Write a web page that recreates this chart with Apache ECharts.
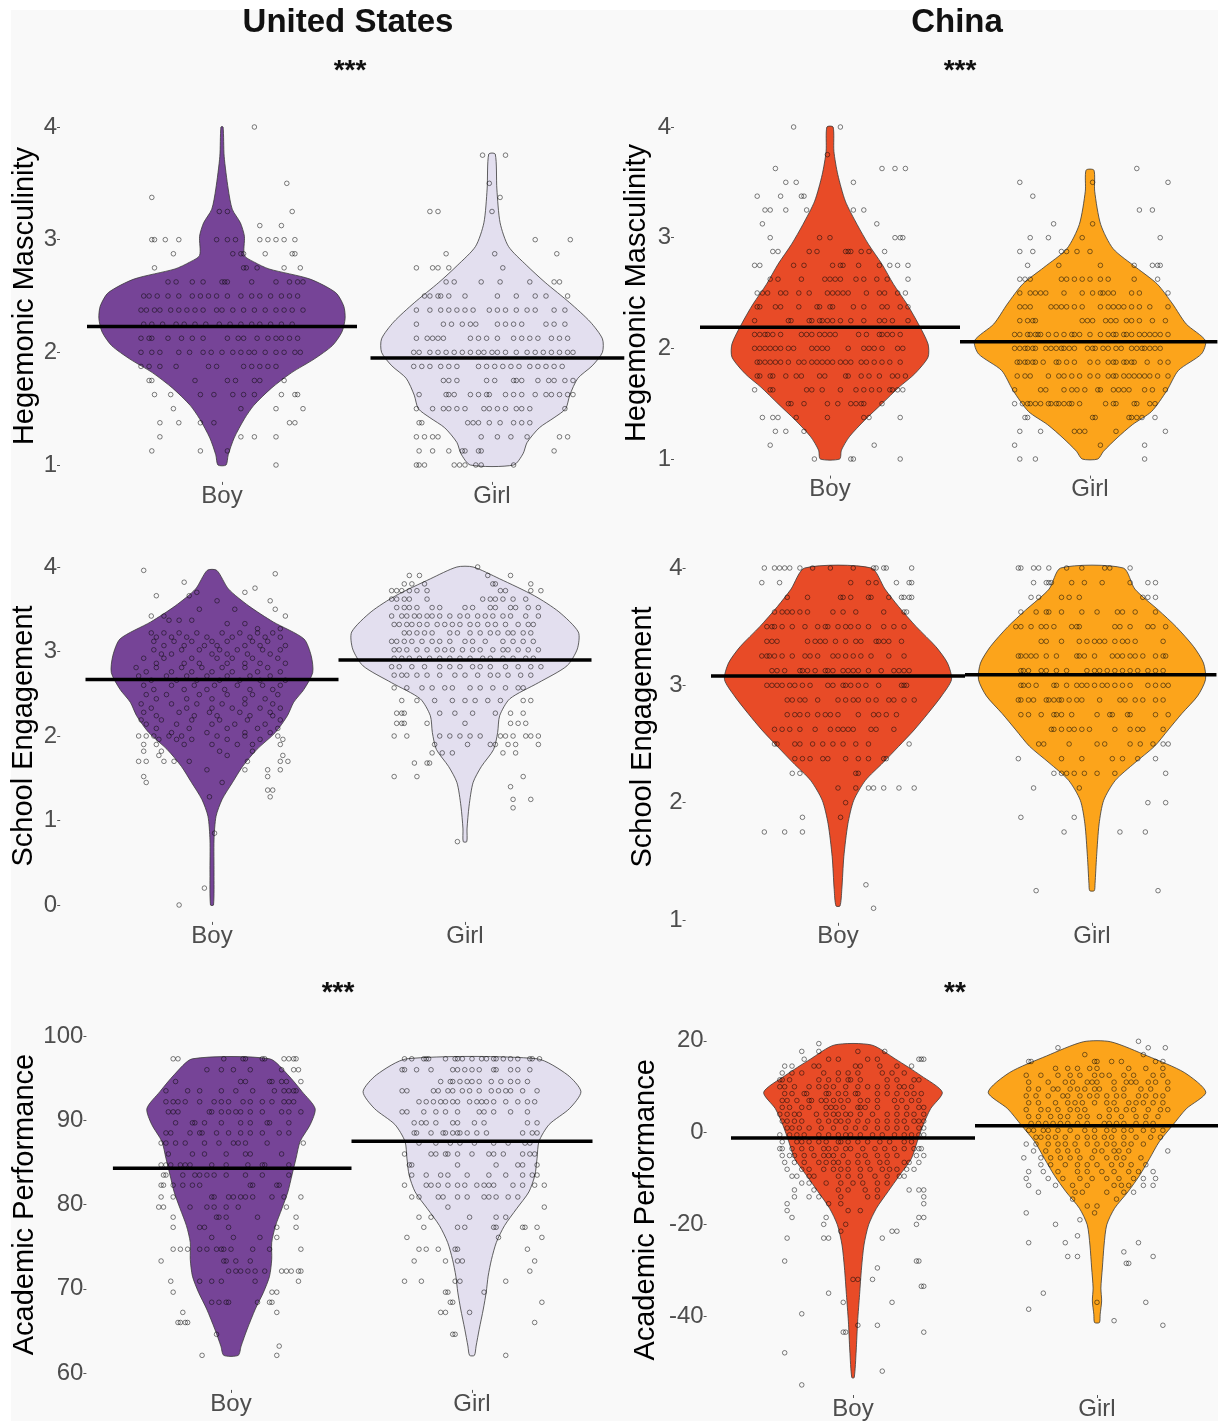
<!DOCTYPE html>
<html>
<head>
<meta charset="utf-8">
<title>Gender differences - United States vs China</title>
<script src="https://cdn.jsdelivr.net/npm/echarts@6/dist/echarts.min.js"></script>
<style>
  html, body { margin: 0; padding: 0; background: #fff; }
  #chart { width: 1218px; height: 1421px; }
</style>
</head>
<body>
<div id="chart"></div>
<script>
const sexLabels = ['Boy', 'Girl']

// tick labels
const mascTicks = [1, 2, 3, 4]
const usEngTicks = [0, 1, 2, 3, 4]
const cnEngTicks = [1, 2, 3, 4]
const usAcadTicks = [60, 70, 80, 90, 100]
const cnAcadTicks = [-40, -20, 0, 20]

// group means (black bars)
const usMascMeans = [2.23, 1.95]
const cnMascMeans = [2.19, 2.06]
const usEngMeans = [2.67, 2.9]
const cnEngMeans = [3.08, 3.09]
const usAcadMeans = [84.3, 87.5]
const cnAcadMeans = [-1.2, 1.5]

// violin outlines: [value, half width in category units], top to bottom
const usMascBoyShape = [[4.0,0.004],[3.74,0.008],[3.45,0.023],[3.27,0.038],[3.15,0.068],[3.03,0.083],[2.86,0.083],[2.8,0.12],[2.74,0.174],[2.65,0.326],[2.53,0.421],[2.41,0.451],[2.3,0.456],[2.18,0.444],[2.06,0.409],[1.94,0.341],[1.82,0.258],[1.68,0.182],[1.53,0.118],[1.41,0.083],[1.24,0.045],[1.09,0.023],[1.0,0.015]]
const usMascGirlShape = [[3.76,0.012],[3.45,0.018],[3.15,0.03],[2.94,0.061],[2.77,0.129],[2.62,0.197],[2.44,0.288],[2.27,0.364],[2.12,0.409],[2.0,0.409],[1.88,0.371],[1.77,0.318],[1.62,0.288],[1.5,0.273],[1.42,0.23],[1.33,0.175],[1.2,0.13],[1.1,0.115],[1.0,0.08]]
const cnMascBoyShape = [[4.0,0.012],[3.78,0.015],[3.57,0.03],[3.33,0.059],[3.12,0.104],[2.94,0.148],[2.76,0.2],[2.58,0.244],[2.4,0.296],[2.22,0.34],[2.04,0.377],[1.92,0.377],[1.77,0.326],[1.65,0.266],[1.5,0.2],[1.35,0.133],[1.2,0.074],[1.08,0.044],[1.0,0.037]]
const cnMascGirlShape = [[3.61,0.015],[3.42,0.018],[3.12,0.041],[2.9,0.089],[2.73,0.178],[2.58,0.259],[2.4,0.318],[2.22,0.37],[2.07,0.444],[1.95,0.429],[1.8,0.34],[1.62,0.296],[1.43,0.237],[1.31,0.163],[1.19,0.104],[1.07,0.052],[1.0,0.03]]
const usEngBoyShape = [[3.96,0.019],[3.74,0.065],[3.54,0.145],[3.35,0.242],[3.15,0.363],[2.95,0.392],[2.75,0.398],[2.55,0.363],[2.4,0.323],[2.24,0.298],[2.04,0.25],[1.84,0.177],[1.64,0.121],[1.45,0.081],[1.25,0.04],[1.05,0.016],[0.77,0.008],[0.38,0.008],[0.0,0.006]]
const usEngGirlShape = [[4.0,0.032],[3.86,0.137],[3.66,0.274],[3.47,0.371],[3.23,0.448],[3.03,0.444],[2.83,0.403],[2.63,0.29],[2.44,0.177],[2.24,0.137],[2.04,0.129],[1.84,0.113],[1.64,0.065],[1.45,0.032],[1.17,0.016],[0.9,0.008],[0.75,0.007]]
const cnEngBoyShape = [[4.0,0.131],[3.82,0.185],[3.67,0.239],[3.5,0.308],[3.33,0.385],[3.19,0.431],[3.05,0.447],[2.91,0.408],[2.76,0.354],[2.62,0.3],[2.48,0.239],[2.34,0.177],[2.19,0.108],[2.02,0.062],[1.82,0.039],[1.54,0.023],[1.26,0.015],[1.12,0.008]]
const cnEngGirlShape = [[4.0,0.123],[3.82,0.169],[3.64,0.262],[3.5,0.331],[3.33,0.4],[3.19,0.439],[3.05,0.447],[2.91,0.416],[2.76,0.354],[2.62,0.3],[2.48,0.246],[2.34,0.169],[2.19,0.092],[2.02,0.046],[1.82,0.028],[1.54,0.018],[1.31,0.012],[1.25,0.009]]
const usAcadBoyShape = [[97.3,0.16],[95.4,0.236],[93.4,0.295],[91.4,0.349],[89.5,0.329],[87.5,0.287],[85.5,0.27],[83.5,0.253],[81.5,0.236],[79.5,0.211],[77.5,0.185],[75.5,0.169],[73.5,0.169],[71.5,0.16],[69.6,0.135],[67.6,0.101],[65.2,0.067],[63.2,0.042],[62.1,0.03]]
const usAcadGirlShape = [[97.3,0.27],[95.4,0.396],[93.4,0.452],[91.4,0.405],[89.5,0.32],[87.5,0.278],[85.5,0.27],[83.5,0.261],[81.5,0.236],[79.5,0.185],[77.5,0.135],[75.5,0.101],[73.5,0.081],[71.5,0.067],[69.6,0.059],[67.6,0.047],[65.2,0.03],[63.2,0.017],[62.1,0.01]]
const cnAcadBoyShape = [[19.1,0.076],[16.0,0.175],[12.4,0.279],[8.8,0.366],[5.2,0.318],[1.6,0.287],[-2.0,0.263],[-5.7,0.239],[-9.3,0.191],[-12.9,0.143],[-16.5,0.096],[-20.1,0.064],[-24.5,0.045],[-29.5,0.035],[-35.3,0.027],[-41.1,0.019],[-47.6,0.013],[-53.4,0.005]]
const cnAcadGirlShape = [[19.8,0.056],[16.7,0.207],[13.1,0.358],[8.8,0.446],[5.2,0.366],[1.6,0.31],[-2.0,0.255],[-5.7,0.215],[-9.3,0.175],[-12.9,0.127],[-16.5,0.072],[-20.1,0.04],[-24.5,0.029],[-29.5,0.022],[-33.9,0.016],[-36.7,0.019],[-39.6,0.013],[-41.4,0.01]]

// jittered respondents: [value, [horizontal offsets from the category]]
const usMascBoyPts = [
  [4.0,[0.12]],[3.5,[0.24]],[3.375,[-0.26]],[3.25,[-0.01,0.02,0.26]],[3.125,[0.14,0.22]],
  [3.0,[-0.26,-0.25,-0.21,-0.16,-0.02,0.02,0.05,0.14,0.17,0.2,0.23,0.27]],
  [2.875,[-0.18,0.04,0.07,0.08,0.16,0.26,0.27]],
  [2.75,[-0.25,0.08,0.09,0.13,0.23,0.29]],
  [2.625,[-0.2,-0.17,-0.11,-0.07,0,0.01,0.02,0.11,0.2,0.25,0.28,0.3]],
  [2.5,[-0.29,-0.27,-0.24,-0.2,-0.16,-0.11,-0.08,-0.05,-0.02,0.02,0.07,0.11,0.14,0.18,0.22,0.25,0.28]],
  [2.375,[-0.3,-0.28,-0.25,-0.23,-0.19,-0.16,-0.13,-0.1,-0.07,-0.02,0,0.04,0.08,0.12,0.16,0.2,0.23,0.26,0.3]],
  [2.25,[-0.29,-0.26,-0.22,-0.17,-0.14,-0.1,-0.06,-0.01,0.03,0.07,0.11,0.14,0.18,0.22,0.26]],
  [2.125,[-0.3,-0.27,-0.26,-0.2,-0.15,-0.11,-0.07,0.02,0.06,0.08,0.13,0.17,0.2,0.22,0.25,0.28]],
  [2.0,[-0.3,-0.26,-0.23,-0.16,-0.12,-0.07,-0.04,0,0.04,0.07,0.1,0.12,0.16,0.2,0.23,0.27,0.29]],
  [1.875,[-0.3,-0.27,-0.23,-0.17,-0.05,-0.02,0.08,0.11,0.14,0.17,0.2]],
  [1.75,[-0.27,-0.26,-0.1,0.02,0.05,0.12,0.14,0.23]],
  [1.625,[-0.25,-0.19,-0.08,-0.03,0.04,0.08,0.12,0.22,0.27,0.28]],
  [1.5,[-0.18,0.07,0.2,0.3]],[1.375,[-0.23,-0.16,-0.08,-0.03,0.25,0.27]],
  [1.25,[-0.23,0.07,0.12,0.2]],[1.125,[-0.26,-0.08,0.02]],[1.0,[0.2]]
]
const usMascGirlPts = [
  [3.75,[-0.035,0.05]],[3.5,[-0.01]],[3.375,[0.03]],[3.25,[-0.23,-0.2,0]],[3.0,[0.16,0.29]],
  [2.875,[-0.17,0.01,0.24]],[2.75,[-0.28,-0.22,-0.2,-0.16,0.04]],
  [2.625,[-0.17,-0.14,-0.04,0.03,0.14,0.23,0.25]],
  [2.5,[-0.25,-0.23,-0.2,-0.19,-0.16,-0.1,0.02,0.09,0.16,0.2,0.28]],
  [2.375,[-0.28,-0.23,-0.19,-0.16,-0.13,-0.1,-0.07,-0.01,0.02,0.05,0.09,0.13,0.16,0.23,0.27]],
  [2.25,[-0.28,-0.18,-0.15,-0.11,-0.08,-0.06,0.02,0.05,0.08,0.11,0.2,0.23,0.27]],
  [2.125,[-0.28,-0.24,-0.22,-0.2,-0.18,-0.08,-0.05,-0.02,0.02,0.08,0.11,0.14,0.17,0.22,0.25,0.28]],
  [2.0,[-0.29,-0.27,-0.23,-0.2,-0.17,-0.14,-0.11,-0.08,-0.05,-0.03,0,0.02,0.05,0.09,0.13,0.16,0.19,0.22,0.25,0.28,0.3]],
  [1.875,[-0.29,-0.26,-0.23,-0.19,-0.16,-0.13,-0.05,-0.02,0.01,0.04,0.07,0.1,0.14,0.17,0.2,0.23,0.26]],
  [1.75,[-0.18,-0.16,-0.13,-0.02,0.01,0.08,0.09,0.11,0.17,0.21,0.23,0.27,0.3]],
  [1.625,[-0.27,-0.17,-0.16,-0.14,-0.08,-0.05,-0.02,-0.01,0.05,0.08,0.11,0.16,0.2,0.22,0.25,0.28,0.3]],
  [1.5,[-0.28,-0.22,-0.18,-0.16,-0.13,-0.1,-0.03,-0.01,0.02,0.05,0.09,0.11,0.14,0.27]],
  [1.375,[-0.27,-0.26,-0.09,-0.07,-0.05,-0.01,0.03,0.08,0.11,0.14]],
  [1.25,[-0.28,-0.25,-0.22,-0.2,-0.04,0.02,0.07,0.13,0.25,0.28]],
  [1.125,[-0.27,-0.22,-0.16,-0.11,-0.1,-0.05,-0.04,0.23]],
  [1.0,[-0.28,-0.27,-0.25,-0.14,-0.12,-0.1,-0.06,-0.04,0.08]]
]
const cnMascBoyPts = [
  [4.0,[-0.14,0.04]],[3.75,[-0.01]],[3.625,[-0.21,0.2,0.25,0.29]],[3.5,[-0.17,-0.13,0.09]],
  [3.375,[-0.28,-0.19,-0.11,-0.1]],[3.25,[-0.25,-0.23,-0.17,-0.09,0.09,0.13]],[3.125,[-0.26,0.18]],
  [3.0,[-0.23,-0.04,0,0.25,0.27,0.28]],
  [2.875,[-0.22,-0.2,-0.08,-0.05,0.06,0.07,0.08,0.12,0.15,0.21]],
  [2.75,[-0.29,-0.27,-0.14,-0.1,0.01,0.04,0.05,0.11,0.19,0.23,0.26,0.3]],
  [2.625,[-0.23,-0.2,-0.11,-0.02,0,0.02,0.04,0.1,0.13,0.18,0.22,0.3]],
  [2.5,[-0.28,-0.26,-0.24,-0.19,-0.17,-0.12,-0.08,-0.01,0.01,0.03,0.05,0.07,0.14,0.19,0.21,0.26,0.29]],
  [2.375,[-0.28,-0.27,-0.21,-0.19,-0.12,-0.05,-0.04,0,0.01,0.09,0.13,0.2,0.22,0.27,0.3]],
  [2.25,[-0.29,-0.16,-0.15,-0.08,-0.07,-0.04,-0.03,-0.01,0.01,0.04,0.08,0.13,0.19,0.21,0.24,0.3]],
  [2.125,[-0.29,-0.27,-0.25,-0.24,-0.22,-0.19,-0.11,-0.09,-0.07,-0.04,-0.02,0,0.02,0.11,0.14,0.19,0.2,0.22,0.24,0.27]],
  [2.0,[-0.29,-0.27,-0.25,-0.23,-0.21,-0.19,-0.16,-0.14,-0.07,-0.05,-0.03,-0.01,0.07,0.13,0.15,0.17,0.2,0.26,0.28]],
  [1.875,[-0.28,-0.27,-0.25,-0.23,-0.21,-0.19,-0.16,-0.12,-0.1,-0.07,-0.05,-0.03,-0.01,0.01,0.04,0.06,0.08,0.12,0.14,0.17,0.2,0.23,0.27]],
  [1.75,[-0.28,-0.27,-0.23,-0.22,-0.17,-0.13,-0.11,-0.04,-0.02,0.06,0.07,0.12,0.15,0.19,0.24,0.26,0.29]],
  [1.625,[-0.29,-0.23,-0.22,-0.09,-0.07,-0.03,0.04,0.1,0.13,0.16,0.19,0.23,0.24,0.26,0.28]],
  [1.5,[-0.16,-0.15,-0.1,-0.01,0.03,0.08,0.1,0.12,0.13,0.2]],
  [1.375,[-0.26,-0.22,-0.2,-0.13,-0.01,0.13,0.15,0.27]],
  [1.25,[-0.21,-0.17,-0.1]],[1.125,[-0.23,0.17]],[1.0,[-0.06,0.08,0.09,0.27]]
]
const cnMascGirlPts = [
  [3.625,[0.18]],[3.5,[-0.27,0.01,0.3]],[3.375,[-0.22]],[3.25,[0.19,0.24]],[3.125,[-0.14,0.01]],
  [3.0,[-0.23,-0.16,-0.03,0.27]],[2.875,[-0.27,-0.22,-0.11,-0.09,-0.05,0]],
  [2.75,[-0.24,-0.12,0.04,0.17,0.24,0.26,0.27]],
  [2.625,[-0.27,-0.25,-0.23,-0.11,-0.09,-0.06,-0.03,0,0.04,0.07,0.17,0.26]],
  [2.5,[-0.27,-0.23,-0.21,-0.19,-0.17,-0.1,-0.03,0.01,0.04,0.05,0.07,0.09,0.16,0.19,0.3]],
  [2.375,[-0.27,-0.25,-0.23,-0.15,-0.13,-0.11,-0.09,-0.06,-0.03,0.04,0.07,0.09,0.11,0.13,0.16,0.19,0.23,0.3]],
  [2.25,[-0.27,-0.24,-0.22,-0.21,-0.03,-0.01,0.01,0.06,0.08,0.1,0.14,0.16,0.19,0.24,0.29]],
  [2.125,[-0.29,-0.27,-0.24,-0.23,-0.21,-0.2,-0.19,-0.16,-0.13,-0.1,-0.07,-0.06,-0.04,0,0.04,0.07,0.09,0.1,0.13,0.14,0.16,0.19,0.21,0.23,0.25,0.27,0.3]],
  [2.0,[-0.29,-0.27,-0.25,-0.24,-0.22,-0.21,-0.17,-0.15,-0.13,-0.11,-0.1,-0.08,-0.06,-0.01,0.01,0.02,0.05,0.07,0.1,0.12,0.16,0.18,0.2,0.21,0.23,0.25,0.27]],
  [1.875,[-0.28,-0.27,-0.25,-0.24,-0.22,-0.21,-0.18,-0.13,-0.12,-0.09,-0.06,0,0.03,0.07,0.09,0.1,0.13,0.14,0.16,0.17,0.22,0.27,0.3]],
  [1.75,[-0.28,-0.25,-0.23,-0.16,-0.12,-0.1,-0.07,-0.04,0,0.03,0.07,0.09,0.1,0.13,0.15,0.17,0.19,0.21,0.23,0.26,0.3]],
  [1.625,[-0.29,-0.19,-0.17,-0.1,-0.07,-0.05,-0.02,0.03,0.04,0.09,0.11,0.13,0.15,0.21,0.24,0.29]],
  [1.5,[-0.29,-0.26,-0.24,-0.23,-0.21,-0.19,-0.16,-0.15,-0.13,-0.12,-0.1,-0.08,-0.07,-0.04,0.06,0.09,0.1,0.17,0.18,0.23,0.25]],
  [1.375,[-0.25,-0.24,0.01,0.02,0.15,0.16,0.18,0.2,0.25]],
  [1.25,[-0.27,-0.19,-0.06,-0.04,-0.02,0.1,0.29]],[1.125,[-0.29,0.04,0.21]],[1.0,[-0.27,-0.21,0.21]]
]
const usEngBoyPts = [
  [3.96,[-0.27]],[3.92,[0.25]],[3.82,[-0.11]],[3.75,[0.17]],[3.7,[-0.06,0.13]],[3.66,[-0.22,-0.09]],
  [3.6,[0.02,0.23]],[3.5,[-0.05,0.09,0.25]],[3.42,[-0.24,-0.19,0.29]],[3.37,[-0.17,-0.13,-0.08]],
  [3.33,[0.06,0.13]],[3.27,[0.18,0.27]],
  [3.22,[-0.24,-0.19,-0.13,-0.06,0.04,0.11,0.18,0.24]],[3.17,[-0.22,-0.16,-0.1,-0.02,0.08,0.15,0.21,0.27]],
  [3.12,[-0.23,-0.15,-0.08,0,0.06,0.16,0.22]],[3.07,[-0.19,-0.11,-0.03,0.02,0.13,0.19,0.29]],
  [3.02,[-0.23,-0.12,-0.05,0.03,0.1,0.2,0.27]],[2.97,[-0.2,-0.16,0,0.06,0.14,0.23]],
  [2.92,[-0.27,-0.19,-0.08,0.02,0.08,0.16,0.26]],[2.86,[-0.22,-0.11,-0.05,0.06,0.13,0.19,0.29]],
  [2.81,[-0.3,-0.22,-0.12,-0.04,0.04,0.13,0.22]],[2.76,[-0.26,-0.16,-0.08,0,0.08,0.18,0.27]],
  [2.71,[-0.29,-0.18,-0.1,-0.02,0.06,0.15,0.23]],[2.66,[-0.24,-0.14,-0.06,0.03,0.11,0.19,0.29]],
  [2.6,[-0.27,-0.16,-0.07,0.01,0.1,0.2,0.27]],[2.55,[-0.23,-0.11,-0.02,0.05,0.15,0.24]],
  [2.49,[-0.26,-0.18,-0.05,0.06,0.16,0.26]],[2.44,[-0.22,-0.1,0,0.13,0.21]],
  [2.38,[-0.28,-0.16,-0.06,0.04,0.13,0.24]],[2.33,[-0.24,-0.1,0,0.08,0.19,0.27]],
  [2.28,[-0.27,-0.13,-0.01,0.11,0.23]],[2.24,[-0.22,-0.07,0.02,0.15,0.24]],
  [2.19,[-0.28,-0.2,-0.08,0.03,0.14,0.27]],[2.14,[-0.26,-0.14,0,0.09,0.21]],
  [2.09,[-0.22,-0.09,0.06,0.18,0.26]],[2.04,[-0.16,-0.02,0.13,0.23]],
  [2.0,[-0.29,-0.26,-0.23,-0.17,-0.12,0.02,0.13,0.26]],[1.96,[-0.21,-0.14,-0.08,0.06,0.19,0.28]],
  [1.9,[-0.27,-0.22,-0.11,0,0.1,0.16,0.27]],[1.82,[-0.27,-0.2,0.03,0.16]],[1.77,[-0.21,0.06,0.28]],
  [1.7,[-0.29,-0.26,-0.19,-0.15,-0.09,0.14,0.27,0.3]],[1.6,[-0.02,0.13,0.22,0.27]],
  [1.52,[-0.27,0.22]],[1.45,[-0.26,0.04]],[1.36,[0.22,0.24]],[1.28,[-0.01,0.23]],
  [0.85,[0.01]],[0.2,[-0.03]],[0.0,[-0.13]]
]
const usEngGirlPts = [
  [4.0,[0.05]],[3.9,[-0.22,-0.18,0.09,0.18]],[3.8,[-0.24,-0.21,-0.16,0.11,0.12,0.26]],
  [3.72,[-0.29,-0.27,-0.25,-0.22,-0.19,-0.15,0.14,0.16,0.26,0.3]],
  [3.62,[-0.29,-0.27,-0.24,-0.22,-0.15,0.07,0.1,0.12,0.15,0.19,0.24]],
  [3.52,[-0.27,-0.24,-0.22,-0.19,-0.13,-0.1,0,0.03,0.1,0.12,0.18,0.2,0.25,0.29]],
  [3.42,[-0.29,-0.25,-0.23,-0.2,-0.18,-0.15,-0.13,-0.1,-0.06,-0.02,0.01,0.05,0.08,0.11,0.15,0.18,0.24,0.29]],
  [3.32,[-0.28,-0.26,-0.23,-0.21,-0.18,-0.15,-0.11,-0.08,-0.05,-0.02,0.02,0.05,0.09,0.12,0.16,0.21,0.25,0.27]],
  [3.22,[-0.24,-0.22,-0.19,-0.16,-0.13,-0.06,-0.03,0.02,0.06,0.1,0.13,0.17,0.19,0.23,0.26]],
  [3.12,[-0.29,-0.27,-0.24,-0.21,-0.17,-0.13,-0.1,-0.06,0,0.03,0.08,0.15,0.19,0.23,0.27]],
  [3.02,[-0.28,-0.26,-0.23,-0.19,-0.15,-0.11,-0.08,-0.05,-0.01,0.03,0.06,0.11,0.15,0.17,0.21,0.25,0.29]],
  [2.92,[-0.28,-0.25,-0.22,-0.18,-0.14,-0.1,-0.06,-0.02,0.02,0.07,0.1,0.15,0.19,0.24,0.27]],
  [2.82,[-0.29,-0.26,-0.21,-0.16,-0.1,-0.06,-0.02,0.03,0.06,0.1,0.16,0.21,0.26,0.3]],
  [2.72,[-0.28,-0.25,-0.23,-0.19,-0.15,-0.1,-0.04,0,0.05,0.1,0.13,0.17,0.22,0.26]],
  [2.57,[-0.28,-0.23,-0.17,-0.13,-0.08,-0.05,0.02,0.06,0.11,0.16,0.21,0.23]],
  [2.42,[-0.25,-0.19,-0.12,-0.05,0,0.04,0.09,0.14,0.23,0.26]],
  [2.27,[-0.27,-0.25,-0.24,-0.1,-0.04,0.03,0.12,0.18,0.23]],
  [2.15,[-0.27,-0.25,-0.24,-0.15,0,0.18,0.21,0.24]],
  [2.0,[-0.28,-0.23,-0.1,-0.06,-0.02,0.02,0.06,0.14,0.16,0.19,0.24,0.26,0.29]],
  [1.9,[-0.12,0.01,0.1,0.12,0.17,0.2,0.29]],[1.8,[-0.13,-0.09,-0.05,0.15,0.2]],
  [1.68,[-0.2,-0.15,-0.14]],[1.52,[-0.28,-0.19,0.23]],[1.4,[0.18]],[1.25,[0.19,0.26]],[1.15,[0.19]],[0.75,[-0.03]]
]
const cnEngBoyPts = [
  [4.0,[-0.29,-0.25,-0.23,-0.21,-0.19,-0.15,-0.1,-0.03,0.06,0.14,0.15,0.18,0.19,0.29]],
  [3.875,[-0.3,-0.23,0.05,0.12,0.15,0.23,0.28,0.29]],
  [3.75,[-0.2,-0.12,0.01,0.02,0.05,0.12,0.13,0.2,0.25,0.26,0.28,0.29]],
  [3.625,[-0.25,-0.22,-0.2,-0.18,-0.15,-0.12,-0.02,0.02,0.07,0.18,0.26,0.27]],
  [3.5,[-0.28,-0.26,-0.25,-0.22,-0.18,-0.13,-0.08,-0.05,-0.04,0,0.03,0.05,0.08,0.12,0.18,0.22,0.26]],
  [3.375,[-0.28,-0.26,-0.24,-0.12,-0.09,-0.07,-0.05,-0.01,0.03,0.07,0.09,0.15,0.16,0.18,0.2,0.25]],
  [3.25,[-0.3,-0.28,-0.27,-0.25,-0.22,-0.18,-0.13,-0.11,-0.08,-0.02,0,0.03,0.06,0.09,0.13,0.2,0.26]],
  [3.125,[-0.26,-0.24,-0.21,-0.15,-0.14,-0.12,-0.09,-0.05,-0.04,-0.02,0.02,0.04,0.06,0.08,0.12,0.17,0.22,0.24,0.26,0.28]],
  [3.0,[-0.28,-0.26,-0.24,-0.22,-0.19,-0.17,-0.14,-0.11,-0.04,-0.02,0.02,0.03,0.05,0.08,0.11,0.16,0.25,0.26,0.27]],
  [2.875,[-0.2,-0.18,-0.15,-0.13,-0.08,0,0.03,0.06,0.08,0.12,0.15,0.2,0.22,0.26,0.3]],
  [2.75,[-0.2,-0.17,-0.15,-0.12,-0.08,-0.05,-0.03,0,0.08,0.14,0.16,0.19,0.23]],
  [2.625,[-0.25,-0.22,-0.19,-0.15,-0.09,-0.03,0,0.02,0.04,0.06,0.13,0.15,0.22]],
  [2.5,[-0.25,-0.24,-0.17,-0.15,-0.1,-0.06,-0.02,0.02,0.07,0.12,0.28]],
  [2.375,[-0.17,-0.14,-0.11,-0.06,-0.04,0.03,0.08,0.12,0.18,0.19]],
  [2.25,[-0.18,-0.15,0.07,0.08]],[2.125,[0,0.07,0.12,0.14,0.18,0.24,0.3]],[2.0,[0.03]],
  [1.875,[-0.14,0.01]],[1.75,[-0.29,-0.21,-0.14]],[1.3,[0.11]],[1.1,[0.14]]
]
const cnEngGirlPts = [
  [4.0,[-0.29,-0.28,-0.23,-0.21,-0.17,-0.1,-0.04,0.05,0.07,0.15]],
  [3.875,[-0.23,-0.18,-0.17,-0.16,-0.08,-0.03,0.04,0.15,0.22,0.25]],
  [3.75,[-0.24,-0.21,-0.12,-0.09,-0.05,0.2,0.22,0.25]],
  [3.625,[-0.28,-0.22,-0.18,-0.17,-0.12,-0.04,0.02,0.1,0.12,0.17,0.25]],
  [3.5,[-0.3,-0.28,-0.24,-0.2,-0.18,-0.15,-0.08,-0.06,-0.05,0.09,0.11,0.15,0.22,0.24,0.29]],
  [3.375,[-0.2,-0.18,-0.12,-0.05,-0.02,0.01,0.03,0.05,0.09,0.12,0.14,0.17,0.28]],
  [3.25,[-0.29,-0.28,-0.26,-0.24,-0.22,-0.18,-0.14,-0.06,-0.05,-0.03,0.01,0.08,0.1,0.12,0.15,0.17,0.2,0.25,0.28,0.29]],
  [3.125,[-0.28,-0.27,-0.25,-0.2,-0.18,-0.14,-0.1,-0.02,0.01,0.03,0.06,0.09,0.12,0.15,0.18,0.22,0.25,0.28]],
  [3.0,[-0.28,-0.27,-0.25,-0.22,-0.15,-0.14,-0.1,-0.06,-0.04,-0.02,0.01,0.04,0.06,0.09,0.12,0.15,0.22,0.25,0.28,0.3]],
  [2.875,[-0.29,-0.28,-0.25,-0.23,-0.18,-0.17,-0.15,-0.13,-0.12,-0.09,-0.06,-0.04,0.03,0.11,0.13,0.17,0.2,0.25,0.28]],
  [2.75,[-0.28,-0.25,-0.2,-0.15,-0.14,-0.12,-0.08,0.02,0.07,0.08,0.14,0.15,0.25,0.3]],
  [2.625,[-0.16,-0.15,-0.12,-0.09,-0.07,-0.04,-0.01,0.09,0.15,0.18,0.2,0.28]],
  [2.5,[-0.21,-0.19,-0.09,0.02,0.05,0.15,0.19,0.24,0.28,0.3]],
  [2.375,[-0.29,-0.12,-0.04,0.08,0.12,0.18,0.25]],
  [2.25,[-0.15,-0.12,-0.1,-0.07,-0.03,0.02,0.09,0.29]],
  [2.125,[-0.23,-0.05]],[2.0,[0.22,0.29]],[1.875,[-0.28,-0.07]],[1.75,[-0.11,0.11,0.21]],[1.25,[-0.22,0.26]]
]
const usAcadBoyPts = [
  [97.3,[-0.24,-0.22,-0.03,0.05,0.06,0.13,0.14,0.22,0.24,0.26,0.27]],
  [96,[-0.1,-0.04,0.01,0.08,0.21,0.26,0.28]],
  [94.6,[-0.23,0.04,0.06,0.16,0.17,0.21,0.23,0.29]],
  [93.5,[-0.27,-0.18,-0.13,-0.04,0.02,0.09,0.18,0.22,0.24,0.26,0.27]],
  [92.2,[-0.27,-0.24,-0.22,-0.19,-0.13,-0.07,-0.04,-0.01,0.05,0.08,0.13,0.17,0.22,0.24,0.26]],
  [91,[-0.26,-0.24,-0.22,-0.09,-0.08,-0.04,-0.01,0.02,0.04,0.08,0.13,0.21,0.24,0.29]],
  [89.7,[-0.23,-0.16,-0.15,-0.11,-0.04,0.04,0.08,0.15,0.16,0.24]],
  [88.5,[-0.27,-0.25,-0.17,-0.13,-0.12,-0.06,-0.01,0.04,0.08,0.13,0.2,0.24]],
  [87.3,[-0.29,-0.27,-0.23,-0.19,-0.11,-0.05,0.01,0.03,0.06,0.15,0.3]],
  [86,[-0.26,-0.16,-0.11,-0.02,0.06,0.08,0.21]],
  [84.7,[-0.29,-0.27,-0.25,-0.21,-0.19,-0.17,-0.08,-0.02,0.07,0.13,0.14,0.24]],
  [83.5,[-0.28,-0.27,-0.2,-0.15,-0.13,-0.1,-0.07,-0.02,0.06,0.13,0.24]],
  [82.3,[-0.29,-0.28,-0.24,-0.2,-0.16,-0.13,0.08,0.09,0.19,0.2]],
  [80.9,[-0.29,-0.24,-0.08,-0.07,-0.01,0.01,0.04,0.06,0.09,0.17,0.22,0.29]],
  [79.7,[-0.3,-0.28,-0.17,-0.1,-0.07,-0.02,0.03,0.23]],
  [78.5,[-0.24,-0.06,-0.05,-0.02,0.11,0.27]],
  [77.3,[-0.24,-0.13,-0.11,-0.01,0.19,0.27]],
  [76.1,[-0.08,0.01,0.12,0.19]],
  [74.7,[-0.24,-0.21,-0.18,-0.13,-0.1,-0.06,-0.04,-0.03,0,0.09,0.16,0.29]],
  [73.3,[-0.29,-0.03,-0.02,0.02,0.08]],
  [72.1,[-0.01,0.02,0.04,0.07,0.1,0.14,0.21,0.23,0.25,0.28,0.29]],
  [70.9,[-0.25,-0.13,-0.08,-0.04,0.1,0.28]],
  [69.6,[-0.24,0.17,0.19]],
  [68.4,[-0.08,-0.05,-0.02,-0.01,0.11,0.16,0.17]],
  [67.2,[-0.2,0.19]],[66,[-0.22,-0.21,-0.19,-0.18]],[64.6,[-0.06]],[63.2,[0.2]],[62.1,[-0.12,0.19]]
]
const usAcadGirlPts = [
  [97.3,[-0.28,-0.25,-0.2,-0.19,-0.18,-0.11,-0.07,-0.06,-0.04,0,0.04,0.06,0.09,0.1,0.13,0.16,0.19,0.24,0.25,0.28]],
  [96,[-0.29,-0.28,-0.23,-0.17,-0.08,-0.06,-0.03,0,0.03,0.09,0.1,0.16,0.19,0.24]],
  [94.6,[-0.13,-0.09,-0.08,-0.05,-0.02,0,0.03,0.08,0.12,0.16,0.19,0.23]],
  [93.5,[-0.29,-0.27,-0.16,-0.14,-0.1,-0.08,-0.04,-0.01,0.03,0.08,0.11,0.14,0.16,0.21,0.27]],
  [92.2,[-0.22,-0.19,-0.16,-0.13,-0.11,-0.08,-0.06,-0.01,0.02,0.04,0.06,0.09,0.14,0.19,0.23,0.26]],
  [91,[-0.29,-0.27,-0.2,-0.15,-0.11,-0.06,0.03,0.05,0.09,0.16,0.23]],
  [89.7,[-0.24,-0.21,-0.19,-0.15,-0.08,-0.06,0.01,0.05,0.23,0.27]],
  [88.5,[-0.24,-0.23,-0.17,-0.12,-0.11,-0.08,-0.06,-0.05,-0.02,0.02,0.06,0.21,0.25,0.27]],
  [87.3,[-0.22,-0.15,-0.09,-0.05,0.01,0.09,0.15,0.22,0.24]],
  [86,[-0.28,-0.17,-0.15,-0.11,-0.1,-0.06,0,0.07,0.09,0.13,0.21,0.24,0.26]],
  [84.7,[-0.26,-0.25,-0.06,0.1,0.19,0.21,0.27]],
  [83.5,[-0.25,-0.19,-0.13,-0.1,-0.02,0.07,0.14,0.21,0.25,0.27]],
  [82.3,[-0.28,-0.19,-0.17,-0.14,-0.1,-0.06,-0.03,0.02,0.05,0.07,0.09,0.17,0.21,0.26,0.3]],
  [80.9,[-0.25,-0.22,-0.14,-0.12,-0.06,-0.02,0.05,0.07,0.1,0.15,0.19]],
  [79.7,[-0.1,0.3]],[78.5,[-0.22,-0.17,-0.01,0.1,0.14]],
  [77.3,[-0.2,-0.06,-0.03,0.09,0.1,0.21,0.22,0.27]],[76.1,[-0.27,0.11,0.29]],
  [74.7,[-0.22,-0.19,-0.14,-0.07,-0.06,0.23]],[73.3,[-0.24,-0.11,-0.06,-0.04,0.26]],[72.1,[0.24]],
  [70.9,[-0.28,-0.21,-0.07,-0.05,0.14]],[69.6,[-0.11,-0.1,0.05]],[68.4,[-0.09,-0.08,0.29]],
  [67.2,[-0.13,-0.11,-0.01]],[66,[0.26]],[64.6,[-0.08,-0.07]],[62.1,[0.14]]
]
const cnAcadBoyPts = [
  [19.4,[-0.14]],[17.7,[-0.21,-0.14,0.02,0.13]],[16,[-0.2,-0.1,-0.06,0.06,0.1,0.27,0.28,0.29]],
  [14.5,[-0.28,-0.25,-0.16,-0.14,0.01,0.03,0.11,0.18,0.24]],
  [13,[-0.29,-0.25,-0.21,-0.12,-0.06,-0.02,0.02,0.12,0.16,0.21]],
  [11.5,[-0.3,-0.29,-0.26,-0.14,-0.1,-0.06,-0.02,-0.01,0.03,0.14,0.18,0.25,0.27]],
  [10,[-0.3,-0.28,-0.24,-0.18,-0.14,-0.11,-0.08,-0.03,0.02,0.06,0.1,0.14,0.19,0.21,0.24]],
  [8.5,[-0.28,-0.25,-0.2,-0.19,-0.11,-0.1,-0.06,-0.03,0.01,0.02,0.1,0.14,0.18,0.22,0.25,0.28]],
  [7,[-0.29,-0.27,-0.23,-0.18,-0.17,-0.13,-0.11,-0.08,-0.05,-0.02,0.03,0.06,0.1,0.17,0.2,0.24,0.27]],
  [5.5,[-0.29,-0.26,-0.21,-0.18,-0.11,-0.09,-0.07,-0.04,0.02,0.03,0.05,0.1,0.18,0.22,0.27,0.29]],
  [4,[-0.3,-0.27,-0.24,-0.22,-0.15,-0.11,-0.08,-0.06,-0.03,-0.01,0.03,0.08,0.14,0.18,0.22,0.25,0.29]],
  [2.5,[-0.29,-0.27,-0.24,-0.21,-0.14,-0.1,-0.07,-0.05,-0.02,0.02,0.06,0.1,0.14,0.18,0.21,0.25,0.27,0.29]],
  [1,[-0.27,-0.25,-0.22,-0.18,-0.13,-0.08,-0.03,0.01,0.05,0.1,0.14,0.18,0.22,0.27,0.29]],
  [-0.5,[-0.3,-0.26,-0.23,-0.2,-0.14,-0.1,-0.06,-0.03,-0.01,0.03,0.08,0.12,0.17,0.21,0.24,0.27,0.29]],
  [-2,[-0.29,-0.23,-0.21,-0.18,-0.14,-0.11,-0.06,-0.05,-0.02,0.02,0.06,0.11,0.15,0.21,0.24]],
  [-3.5,[-0.3,-0.29,-0.25,-0.21,-0.17,-0.12,-0.1,-0.07,-0.03,-0.01,0.04,0.09,0.13,0.17,0.21,0.25,0.27,0.28]],
  [-5,[-0.29,-0.26,-0.24,-0.2,-0.16,-0.12,-0.1,-0.08,-0.04,0.02,0.05,0.1,0.14,0.18,0.26,0.29]],
  [-6.5,[-0.28,-0.24,-0.2,-0.14,-0.11,-0.08,-0.06,-0.02,0.02,0.06,0.11,0.14,0.21,0.23,0.27]],
  [-8,[-0.27,-0.21,-0.18,-0.12,-0.08,-0.05,-0.02,0.03,0.07,0.12,0.15,0.18,0.22,0.25]],
  [-9.5,[-0.25,-0.23,-0.18,-0.16,-0.06,-0.02,0.03,0.09,0.14,0.19,0.21]],
  [-11,[-0.21,-0.18,-0.11,-0.05,0,0.04,0.1,0.14]],
  [-12.5,[-0.24,-0.16,-0.06,-0.02,0.05,0.1,0.23,0.27,0.29]],
  [-14,[-0.24,-0.18,-0.14,-0.05,0.06,0.1,0.29]],
  [-15.5,[-0.27,-0.1,-0.05,0.29]],[-17,[-0.27,-0.02,0.03]],[-18.5,[-0.25,-0.11,0.27,0.29]],
  [-20,[-0.12,-0.03,0.26]],[-21.5,[-0.05,0.16,0.18]],[-23,[-0.27,-0.12,-0.1,0.12]],
  [-28,[-0.28,0.26,0.27]],[-29.5,[0.1]],[-32,[0,0.02,0.08]],[-33.5,[0.28,0.29]],[-35,[-0.1]],
  [-37,[-0.04,0.16]],[-39.5,[-0.21]],[-42,[0.02,0.1]],[-43.5,[-0.04,-0.03,0.29]],
  [-48,[-0.28]],[-52,[0.12]],[-55,[-0.21]]
]
const cnAcadGirlPts = [
  [19.9,[0.17]],[18.5,[-0.16,0.21,0.28]],[17,[-0.05,0.19]],
  [15.5,[-0.28,-0.27,-0.01,0,0.06,0.1,0.24,0.27]],
  [14,[-0.17,-0.12,-0.08,-0.03,0,0.13,0.2,0.27]],
  [12.5,[-0.29,-0.23,-0.16,-0.11,-0.07,-0.01,0.02,0.05,0.11,0.15,0.23,0.27]],
  [11,[-0.28,-0.2,-0.13,-0.1,-0.04,-0.02,0,0.07,0.12,0.14,0.16,0.21,0.24,0.29]],
  [9.5,[-0.28,-0.24,-0.18,-0.16,-0.11,-0.08,-0.05,-0.01,0.01,0.07,0.11,0.18,0.22,0.29]],
  [8,[-0.29,-0.25,-0.2,-0.14,-0.12,-0.07,-0.03,0,0.04,0.08,0.11,0.17,0.2,0.24,0.27]],
  [6.5,[-0.28,-0.24,-0.17,-0.12,-0.09,-0.06,-0.01,0.04,0.07,0.13,0.16,0.19,0.23,0.27]],
  [5,[-0.29,-0.23,-0.2,-0.16,-0.11,-0.08,-0.05,0.05,0.08,0.12,0.15,0.21,0.26,0.29]],
  [3.5,[-0.28,-0.24,-0.19,-0.15,-0.12,-0.07,-0.04,0.01,0.05,0.1,0.16,0.2,0.25]],
  [2,[-0.27,-0.24,-0.21,-0.18,-0.15,-0.12,-0.08,-0.04,0.03,0.05,0.08,0.11,0.16,0.2,0.23]],
  [0.5,[-0.28,-0.26,-0.22,-0.2,-0.16,-0.11,-0.05,-0.01,0.04,0.07,0.11,0.14,0.19,0.23,0.27]],
  [-1,[-0.25,-0.23,-0.2,-0.17,-0.13,-0.08,-0.04,-0.01,0.03,0.06,0.11,0.16,0.22,0.26]],
  [-2.5,[-0.29,-0.25,-0.2,-0.16,-0.13,-0.09,-0.04,0,0.04,0.07,0.11,0.14,0.19]],
  [-4,[-0.26,-0.21,-0.16,-0.12,-0.08,-0.01,0.02,0.07,0.09,0.13,0.29]],
  [-5.5,[-0.3,-0.23,-0.19,-0.15,-0.11,-0.07,-0.02,0.04,0.08,0.11,0.18]],
  [-7,[-0.23,-0.19,-0.13,-0.08,-0.04,0,0.06,0.1,0.14,0.2]],
  [-8.5,[-0.28,-0.22,-0.16,-0.08,-0.04,0.02,0.07,0.13,0.17,0.23]],
  [-10,[-0.29,-0.2,-0.14,-0.07,-0.02,0.04,0.09,0.15,0.19,0.24]],
  [-11.5,[-0.28,-0.17,-0.1,-0.04,0.07,0.1,0.13,0.19,0.23]],
  [-13,[-0.24,-0.09,-0.06,0.04,0.11,0.15]],
  [-14.5,[-0.1,0.08]],[-16,[-0.04,0]],[-17.5,[-0.29,-0.01]],[-19,[-0.07]],[-20,[-0.17]],
  [-22.5,[-0.08]],[-24,[-0.28,-0.13,0.17]],[-26,[0.11]],[-27,[-0.12,-0.08,0.23]],[-28.5,[0.12,0.13]],
  [-35,[-0.22]],[-37,[0,0.2]],[-38.5,[-0.28]],[-41,[0.07]],[-42,[0.27]]
]

const usColors = ['#764497', '#e3dfef']
const cnColors = ['#e84b27', '#fca41b']
const font = "'Liberation Sans', Arial, Helvetica, sans-serif"

// band = pixels per category step; the right-hand panels are cut at the page edge
const panels = [
  { name: 'Hegemonic Masculinity', shapes: [usMascBoyShape, usMascGirlShape], pts: [usMascBoyPts, usMascGirlPts], means: usMascMeans, ticks: mascTicks, colors: usColors,
    left: 60, band: 270, xMax: 1.6, top: 110.1, height: 371.8, min: 0.85, max: 4.15, nameGap: 19, span: [[-0.5, 0.5], [0.55, 1.49]] },
  { name: 'Hegemonic Masculinity', shapes: [cnMascBoyShape, cnMascGirlShape], pts: [cnMascBoyPts, cnMascGirlPts], means: cnMascMeans, ticks: mascTicks, colors: cnColors,
    left: 674, band: 260, xMax: 1.488, top: 110.4, height: 365.2, min: 0.85, max: 4.15, nameGap: 23, span: [[-0.5, 0.5], [0.5, 1.49]] },
  { name: 'School Engagement', shapes: [usEngBoyShape, usEngGirlShape], pts: [usEngBoyPts, usEngGirlPts], means: usEngMeans, ticks: usEngTicks, colors: usColors,
    left: 60.2, band: 253, xMax: 1.6, top: 550.1, height: 371.8, min: -0.2, max: 4.2, nameGap: 22, span: [[-0.5, 0.5], [0.5, 1.5]] },
  { name: 'School Engagement', shapes: [cnEngBoyShape, cnEngGirlShape], pts: [cnEngBoyPts, cnEngGirlPts], means: cnEngMeans, ticks: cnEngTicks, colors: cnColors,
    left: 685.6, band: 254, xMax: 1.49, top: 551.1, height: 371.7, min: 0.976, max: 4.144, nameGap: 28, span: [[-0.5, 0.5], [0.5, 1.49]] },
  { name: 'Academic Performance', shapes: [usAcadBoyShape, usAcadGirlShape], pts: [usAcadBoyPts, usAcadGirlPts], means: usAcadMeans, ticks: usAcadTicks, colors: usColors,
    left: 86.4, band: 241, xMax: 1.6, top: 1019.2, height: 370.7, min: 58, max: 102, nameGap: 46, span: [[-0.49, 0.5], [0.5, 1.5]] },
  { name: 'Academic Performance', shapes: [cnAcadBoyShape, cnAcadGirlShape], pts: [cnAcadBoyPts, cnAcadGirlPts], means: cnAcadMeans, ticks: cnAcadTicks, colors: cnColors,
    left: 706.6, band: 244, xMax: 1.49, top: 1024.8, height: 372.2, min: -57.2, max: 23.5, nameGap: 46, span: [[-0.5, 0.5], [0.5, 1.5]] }
]

const grid = []
const xAxis = []
const yAxis = []
const series = []

panels.forEach((p, i) => {
  grid.push({ left: p.left, top: p.top, width: (p.xMax + 0.6) * p.band, height: p.height })
  xAxis.push({
    gridIndex: i, type: 'value', min: -0.6, max: p.xMax,
    axisLine: { show: false, onZero: false }, splitLine: { show: false },
    axisTick: { show: true, length: 3, customValues: [0, 1], lineStyle: { color: '#555' } },
    axisLabel: { customValues: [0, 1], formatter: v => sexLabels[Math.round(v)], fontSize: 24, color: '#4d4d4d', margin: 2, fontFamily: font }
  })
  yAxis.push({
    gridIndex: i, type: 'value', min: p.min, max: p.max,
    name: p.name, nameLocation: 'middle', nameGap: p.nameGap,
    nameTextStyle: { fontSize: 29, color: '#000', fontFamily: font },
    axisLine: { show: false, onZero: false }, splitLine: { show: false },
    axisTick: { show: true, length: 3, customValues: p.ticks, lineStyle: { color: '#555' } },
    axisLabel: { customValues: p.ticks, fontSize: 24, color: '#4d4d4d', margin: 3, fontFamily: font }
  })

  // violins
  series.push({
    type: 'custom', xAxisIndex: i, yAxisIndex: i, z: 2, silent: true,
    data: [[0, p.means[0]], [1, p.means[1]]],
    renderItem: (params, api) => {
      const k = params.dataIndex
      const shape = p.shapes[k]
      const right = shape.map(s => api.coord([k + s[1], s[0]]))
      const left = shape.slice().reverse().map(s => api.coord([k - s[1], s[0]]))
      return {
        type: 'polygon',
        shape: { points: right.concat(left), smooth: 0.25 },
        style: { fill: p.colors[k], stroke: '#3a3a3a', lineWidth: 0.8 }
      }
    }
  })

  // jittered points
  const pts = []
  p.pts.forEach((groups, k) => {
    groups.forEach(g => g[1].forEach(dx => pts.push([k + dx, g[0]])))
  })
  series.push({
    type: 'scatter', xAxisIndex: i, yAxisIndex: i, z: 3, silent: true, clip: false,
    symbol: 'circle', symbolSize: 4.6, data: pts,
    itemStyle: { color: 'rgba(0,0,0,0)', borderColor: 'rgba(10,10,10,0.65)', borderWidth: 1 }
  })

  // group mean bars
  series.push({
    type: 'custom', xAxisIndex: i, yAxisIndex: i, z: 4, silent: true,
    data: [[0, p.means[0]], [1, p.means[1]]],
    renderItem: (params, api) => {
      const k = params.dataIndex
      const a = api.coord([p.span[k][0], p.means[k]])
      const b = api.coord([p.span[k][1], p.means[k]])
      return { type: 'line', shape: { x1: a[0], y1: a[1], x2: b[0], y2: b[1] }, style: { stroke: '#000', lineWidth: 3.5 } }
    }
  })
})

const chart = echarts.init(document.getElementById('chart'), null, { renderer: 'canvas' })
chart.setOption({
  animation: false,
  backgroundColor: '#ffffff',
  textStyle: { fontFamily: font },
  graphic: [
    { type: 'rect', z: -100, silent: true, shape: { x: 11, y: 10, width: 1207, height: 1411 }, style: { fill: '#f9f9f9' } },
    { type: 'text', x: 348, y: 23, style: { text: 'United States', font: 'bold 33px ' + font, fill: '#111', align: 'center', verticalAlign: 'middle' } },
    { type: 'text', x: 957, y: 23, style: { text: 'China', font: 'bold 33px ' + font, fill: '#111', align: 'center', verticalAlign: 'middle' } },
    { type: 'text', x: 350, y: 71, style: { text: '***', font: 'bold 28px ' + font, fill: '#111', align: 'center', verticalAlign: 'middle' } },
    { type: 'text', x: 960, y: 71, style: { text: '***', font: 'bold 28px ' + font, fill: '#111', align: 'center', verticalAlign: 'middle' } },
    { type: 'text', x: 338, y: 993, style: { text: '***', font: 'bold 28px ' + font, fill: '#111', align: 'center', verticalAlign: 'middle' } },
    { type: 'text', x: 955, y: 993, style: { text: '**', font: 'bold 28px ' + font, fill: '#111', align: 'center', verticalAlign: 'middle' } }
  ],
  grid: grid,
  xAxis: xAxis,
  yAxis: yAxis,
  series: series
})
</script>
</body>
</html>
